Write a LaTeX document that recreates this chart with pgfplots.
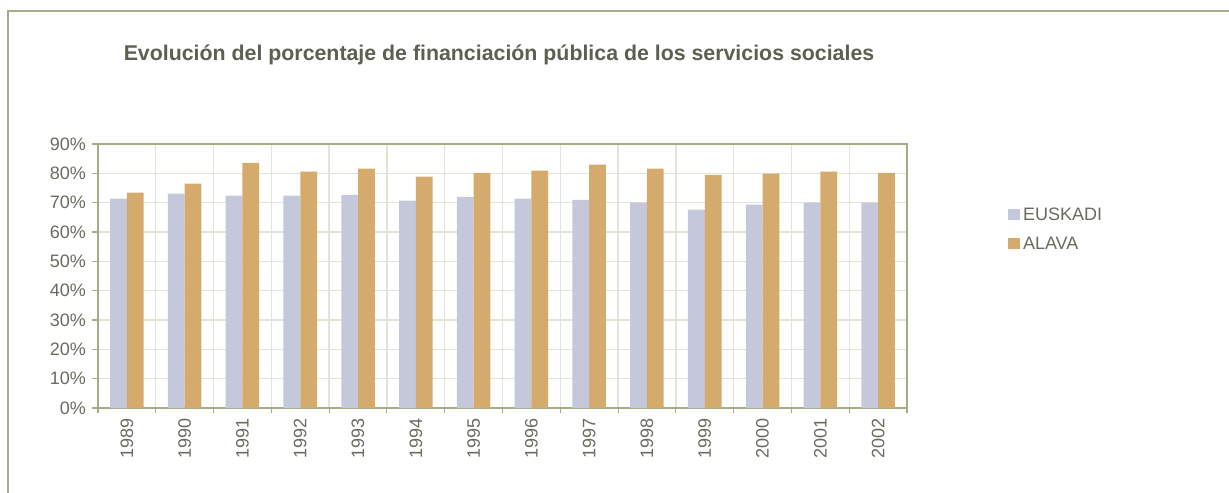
\documentclass[border=0pt]{standalone}
\usepackage{fontspec}
\setmainfont{Liberation Sans}
\usepackage{pgfplots}
\pgfplotsset{compat=1.18}
\definecolor{euskadi}{HTML}{C5C7DA}
\definecolor{alava}{HTML}{D5AB6D}
\definecolor{framec}{HTML}{A6AC88}
\definecolor{gridc}{HTML}{E1E5D8}
\definecolor{txt}{HTML}{686C5E}
\definecolor{ttl}{HTML}{5B6053}
\pgfplotsset{sqleg/.style={legend image code/.code={\fill[##1] (0pt,-4pt) rectangle (9pt,4.25pt);}}}

\begin{document}
\begin{tikzpicture}
% 1 px of the reference = 0.75pt
\path[use as bounding box] (0,0) rectangle (921.75pt,-369.75pt);
\draw[framec, line width=1.5pt] (6pt,-369.75pt) -- (6pt,-8.25pt) -- (921.75pt,-8.25pt);
\node[font=\bfseries\fontsize{16}{18}\selectfont, text=ttl] at (374.25pt,-41.25pt)
  {Evolución del porcentaje de financiación pública de los servicios sociales};
\begin{axis}[
    at={(73.5pt,-306pt)}, anchor=south west,
    width=606.75pt, height=198pt, scale only axis,
    ybar=0pt, bar width=0.29,
    xmin=-0.5, xmax=13.5, ymin=0, ymax=90,
    xtick={0,...,13},
    xticklabels={1989,1990,1991,1992,1993,1994,1995,1996,1997,1998,1999,2000,2001,2002},
    minor xtick={-0.5,0.5,...,13.5},
    ytick={0,10,...,90},
    yticklabels={0\%,10\%,20\%,30\%,40\%,50\%,60\%,70\%,80\%,90\%},
    xtick pos=bottom, ytick pos=left,
    major x tick style={draw=none},
    xminorgrids, ymajorgrids,
    grid style={gridc, line width=1pt},
    minor grid style={gridc, line width=1pt},
    tick align=outside,
    major tick length=4.5pt, minor tick length=4pt,
    every tick/.style={framec, line width=0.8pt},
    axis line style={framec, line width=1pt},
    tick label style={font=\fontsize{13.5}{15}\selectfont, text=txt},
    xticklabel style={rotate=90, anchor=east},
    yticklabel style={xshift=-1pt},
    legend style={at={(1.12,0.78)}, anchor=north west, draw=none, fill=none,
      font=\fontsize{13.5}{15}\selectfont, text=txt, row sep=7pt},
    legend cell align=left,
]
\addplot[fill=euskadi, draw=none, sqleg] coordinates {
  (0,71.4) (1,73.1) (2,72.4) (3,72.4) (4,72.7) (5,70.7) (6,72.0)
  (7,71.4) (8,71.0) (9,70.0) (10,67.6) (11,69.3) (12,70.0) (13,70.0)
};
\addlegendentry{EUSKADI}
\addplot[fill=alava, draw=none, sqleg] coordinates {
  (0,73.4) (1,76.5) (2,83.6) (3,80.6) (4,81.6) (5,78.9) (6,80.2)
  (7,80.9) (8,83.0) (9,81.6) (10,79.5) (11,79.9) (12,80.6) (13,80.2)
};
\addlegendentry{ALAVA}
\end{axis}
\end{tikzpicture}
\end{document}
